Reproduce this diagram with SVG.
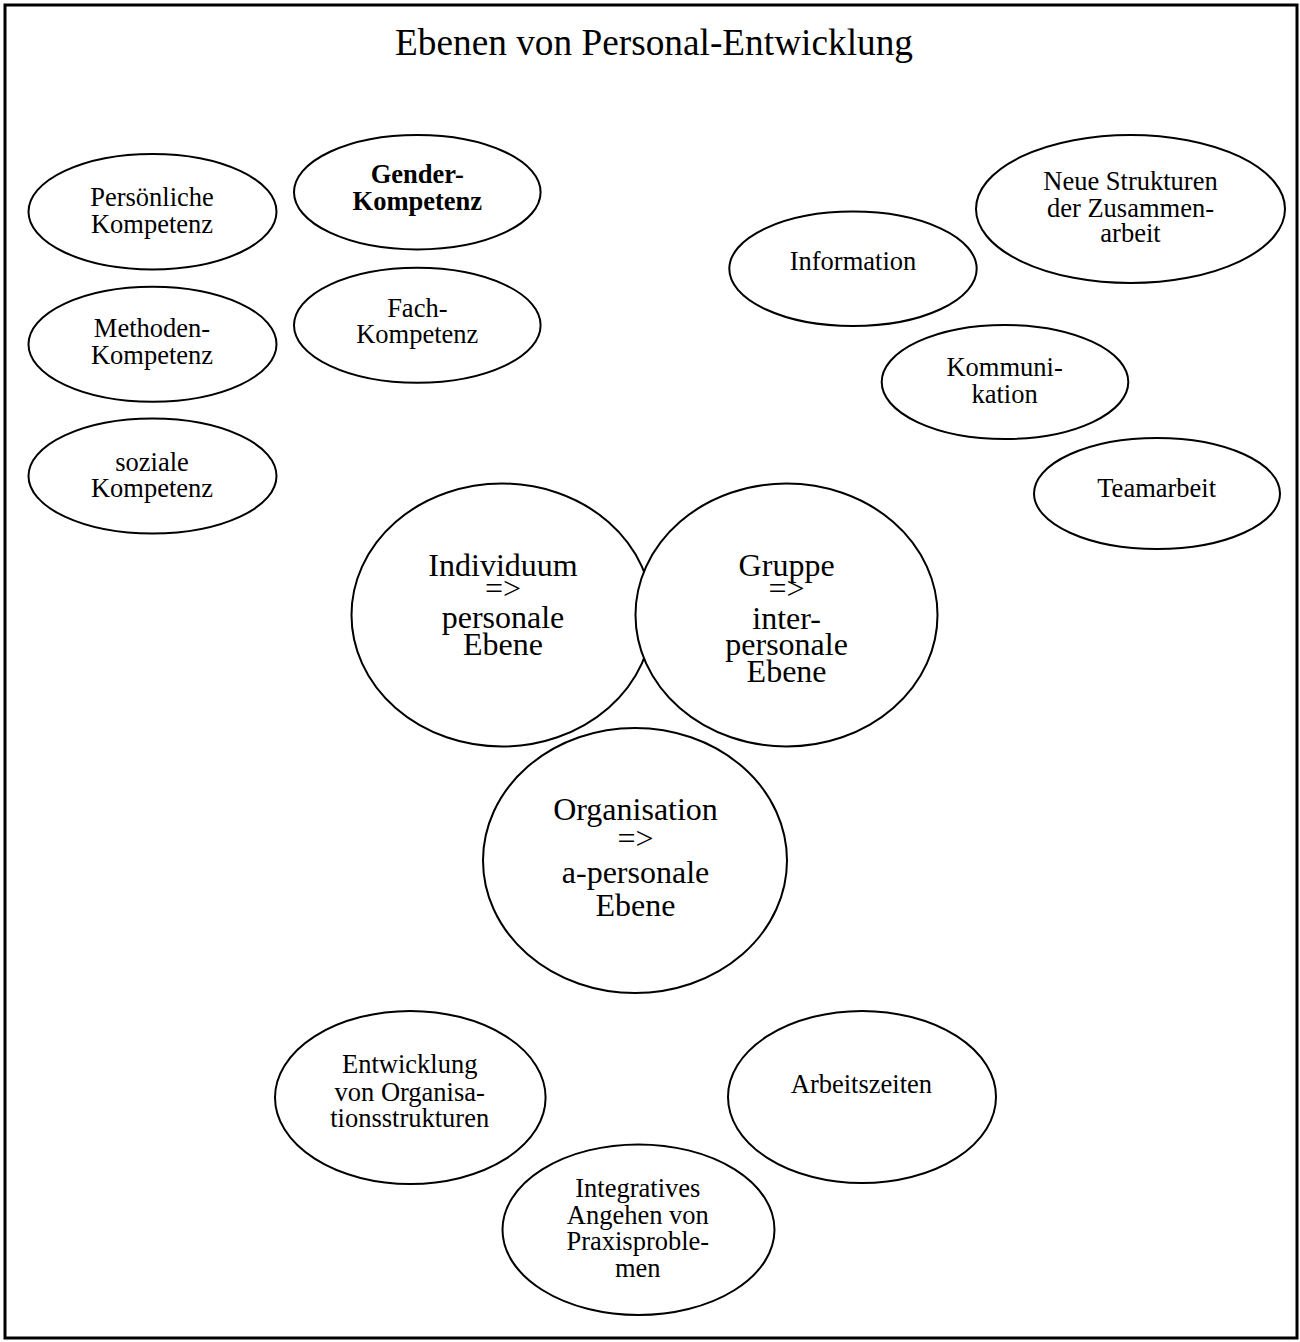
<svg xmlns="http://www.w3.org/2000/svg" width="1300" height="1342" viewBox="0 0 1300 1342">
<style>
  .frame { fill: #ffffff; stroke: #000000; stroke-width: 3; }
  .node ellipse { fill: #ffffff; stroke: #000000; stroke-width: 2; }
  text { font-family: "Liberation Serif", "Times New Roman", serif; fill: #000000; text-anchor: middle; }
  .s { font-size: 26.5px; }
  .b { font-size: 26.5px; font-weight: bold; }
  .l { font-size: 32px; }
  .t { font-size: 37.3px; }
</style>
<rect class="frame" x="5" y="5" width="1292" height="1333"/>
<g id="title"><text class="t" x="654" y="55">Ebenen von Personal-Entwicklung</text></g>
<g id="connectors"></g>

<g id="persoenliche" class="node">
  <ellipse cx="152.5" cy="211.7" rx="124" ry="57.7"/>
  <text class="s"><tspan x="152" y="206">Persönliche</tspan><tspan x="152" y="232.7">Kompetenz</tspan></text>
</g>
<g id="gender" class="node">
  <ellipse cx="417.3" cy="192.2" rx="123.3" ry="57.2"/>
  <text class="b"><tspan x="417.3" y="183.3">Gender-</tspan><tspan x="417.3" y="210">Kompetenz</tspan></text>
</g>
<g id="methoden" class="node">
  <ellipse cx="152.5" cy="344.2" rx="124" ry="57.5"/>
  <text class="s"><tspan x="152" y="337.3">Methoden-</tspan><tspan x="152" y="364.3">Kompetenz</tspan></text>
</g>
<g id="fach" class="node">
  <ellipse cx="417.3" cy="325.2" rx="123.3" ry="57.5"/>
  <text class="s"><tspan x="417.3" y="316.7">Fach-</tspan><tspan x="417.3" y="342.7">Kompetenz</tspan></text>
</g>
<g id="soziale" class="node">
  <ellipse cx="152.5" cy="476" rx="124" ry="57.5"/>
  <text class="s"><tspan x="152" y="470.7">soziale</tspan><tspan x="152" y="496.7">Kompetenz</tspan></text>
</g>

<g id="information" class="node">
  <ellipse cx="853" cy="268.8" rx="123.7" ry="57.2"/>
  <text class="s" x="853" y="270">Information</text>
</g>
<g id="neue-strukturen" class="node">
  <ellipse cx="1130.5" cy="209" rx="154.5" ry="74"/>
  <text class="s"><tspan x="1130.5" y="190">Neue Strukturen</tspan><tspan x="1130.5" y="216.7">der Zusammen-</tspan><tspan x="1130.5" y="241.7">arbeit</tspan></text>
</g>
<g id="kommunikation" class="node">
  <ellipse cx="1005" cy="382" rx="123.3" ry="57"/>
  <text class="s"><tspan x="1004.6" y="376">Kommuni-</tspan><tspan x="1004.6" y="402.7">kation</tspan></text>
</g>
<g id="teamarbeit" class="node">
  <ellipse cx="1157" cy="493.5" rx="123" ry="55.5"/>
  <text class="s" x="1156.7" y="496.7">Teamarbeit</text>
</g>

<g id="individuum" class="node">
  <ellipse cx="502" cy="615" rx="150.5" ry="131.5"/>
  <text class="l"><tspan x="503" y="576">Individuum</tspan><tspan x="503" y="599">=&gt;</tspan><tspan x="503" y="628">personale</tspan><tspan x="503" y="655">Ebene</tspan></text>
</g>
<g id="gruppe" class="node">
  <ellipse cx="786.5" cy="615" rx="151" ry="131.5"/>
  <text class="l"><tspan x="786.6" y="576">Gruppe</tspan><tspan x="786.6" y="599">=&gt;</tspan><tspan x="786.6" y="629">inter-</tspan><tspan x="786.6" y="655">personale</tspan><tspan x="786.6" y="682">Ebene</tspan></text>
</g>
<g id="organisation" class="node">
  <ellipse cx="635" cy="860.5" rx="152" ry="132.5"/>
  <text class="l"><tspan x="635.5" y="820">Organisation</tspan><tspan x="635.5" y="849">=&gt;</tspan><tspan x="635.5" y="883">a-personale</tspan><tspan x="635.5" y="916">Ebene</tspan></text>
</g>

<g id="entwicklung" class="node">
  <ellipse cx="410.3" cy="1097.5" rx="135.3" ry="86.5"/>
  <text class="s"><tspan x="409.7" y="1073.3">Entwicklung</tspan><tspan x="409.7" y="1100.7">von Organisa-</tspan><tspan x="409.7" y="1126.7">tionsstrukturen</tspan></text>
</g>
<g id="arbeitszeiten" class="node">
  <ellipse cx="862" cy="1097" rx="134" ry="86"/>
  <text class="s" x="861.4" y="1092.7">Arbeitszeiten</text>
</g>
<g id="integratives" class="node">
  <ellipse cx="638.5" cy="1229.7" rx="136" ry="85.3"/>
  <text class="s"><tspan x="637.8" y="1197.3">Integratives</tspan><tspan x="637.8" y="1224">Angehen von</tspan><tspan x="637.8" y="1250">Praxisproble-</tspan><tspan x="637.8" y="1276.7">men</tspan></text>
</g>
</svg>
